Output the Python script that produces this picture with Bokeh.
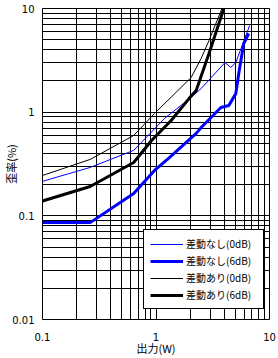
from bokeh.plotting import figure
from bokeh.models import FixedTicker, CustomJSTickFormatter, Legend, LegendItem, Range1d
from bokeh.embed import file_html
from bokeh.resources import INLINE

# ---- data ----
series_names = ["差動なし(0dB)", "差動なし(6dB)", "差動あり(0dB)", "差動あり(6dB)"]

x_nashi_0 = [0.1, 0.263, 0.636, 1.19, 2.04, 2.5, 4.05, 4.56, 5.05, 6.68]
y_nashi_0 = [0.215, 0.293, 0.428, 0.87, 1.39, 1.69, 3.01, 2.70, 3.01, 6.85]

x_nashi_6 = [0.1, 0.263, 0.636, 0.97, 1.29, 2.26, 2.5, 3.73, 4.38, 5.05, 5.36, 5.93, 6.56]
y_nashi_6 = [0.086, 0.086, 0.164, 0.274, 0.358, 0.624, 0.711, 1.11, 1.16, 1.51, 2.36, 4.59, 5.74]

x_ari_0 = [0.1, 0.263, 0.636, 0.97, 2.04, 2.5, 2.93, 3.81]
y_ari_0 = [0.245, 0.35, 0.596, 0.97, 2.16, 3.30, 4.91, 10.0]

x_ari_6 = [0.1, 0.263, 0.636, 0.914, 1.36, 1.96, 2.26, 2.93, 3.96]
y_ari_6 = [0.139, 0.192, 0.327, 0.533, 0.832, 1.36, 1.62, 3.68, 10.0]

x_major = [0.1, 1, 10]
x_minor = [0.2, 0.3, 0.4, 0.5, 0.6, 0.7, 0.8, 0.9, 2, 3, 4, 5, 6, 7, 8, 9]
y_major = [0.01, 0.1, 1, 10]
y_minor = [0.02, 0.03, 0.04, 0.05, 0.06, 0.07, 0.08, 0.09,
           0.2, 0.3, 0.4, 0.5, 0.6, 0.7, 0.8, 0.9,
           2, 3, 4, 5, 6, 7, 8, 9]

x_label = "出力(W)"
y_label = "歪率(%)"

FONT = "Noto Sans CJK JP"
NUM_FONT = "DejaVu Sans"

p = figure(width=278, height=358, x_axis_type="log", y_axis_type="log",
           x_range=Range1d(x_major[0], x_major[-1]), y_range=Range1d(y_major[0], y_major[-1]),
           output_backend="svg", toolbar_location=None,
           min_border_left=40, min_border_right=9, min_border_top=8, min_border_bottom=39)

p.background_fill_color = "white"
p.border_fill_color = "white"
p.outline_line_color = "black"
p.outline_line_alpha = 1
p.outline_line_width = 1

xt = FixedTicker(ticks=x_major, minor_ticks=x_minor)
yt = FixedTicker(ticks=y_major, minor_ticks=y_minor)
p.xaxis.ticker = xt
p.yaxis.ticker = yt
p.xgrid.ticker = xt
p.ygrid.ticker = yt

for g in (p.xgrid, p.ygrid):
    g.grid_line_color = "black"
    g.grid_line_alpha = 1
    g.grid_line_width = 1
    g.minor_grid_line_color = "black"
    g.minor_grid_line_alpha = 1
    g.minor_grid_line_width = 1

fmt = CustomJSTickFormatter(code="return tick.toString();")
for ax in (p.xaxis, p.yaxis):
    ax.formatter = fmt
    ax.axis_line_color = None
    ax.major_tick_line_color = None
    ax.minor_tick_line_color = None
    ax.major_tick_in = 0
    ax.major_tick_out = 0
    ax.minor_tick_in = 0
    ax.minor_tick_out = 0
    ax.major_label_text_font = NUM_FONT
    ax.major_label_text_font_size = "10px"
    ax.major_label_text_color = "black"
    ax.axis_label_text_font = FONT
    ax.axis_label_text_font_size = "11px"
    ax.axis_label_text_font_style = "normal"
    ax.axis_label_text_color = "black"

p.xaxis.axis_label = x_label
p.yaxis.axis_label = y_label
p.xaxis.major_label_standoff = 13
p.xaxis.axis_label_standoff = -4
p.yaxis.major_label_standoff = 8
p.yaxis.axis_label_standoff = -10

r1 = p.line(x_nashi_0, y_nashi_0, line_color="#0000FF", line_width=1)
r2 = p.line(x_nashi_6, y_nashi_6, line_color="#0000FF", line_width=3)
r3 = p.line(x_ari_0, y_ari_0, line_color="black", line_width=1)
r4 = p.line(x_ari_6, y_ari_6, line_color="black", line_width=3)

legend = Legend(items=[LegendItem(label=series_names[0], renderers=[r1]),
                       LegendItem(label=series_names[1], renderers=[r2]),
                       LegendItem(label=series_names[2], renderers=[r3]),
                       LegendItem(label=series_names[3], renderers=[r4])],
                location=(101, 10), margin=0,
                border_line_color="black", border_line_width=1, border_line_alpha=1,
                background_fill_color="white", background_fill_alpha=1,
                padding=6, spacing=2, label_height=14, glyph_height=14,
                glyph_width=33, label_standoff=3, label_width=71,
                label_text_font=FONT, label_text_font_size="10px",
                label_text_color="black")
p.add_layout(legend)

open("out.html", "w").write(file_html(p, INLINE))
